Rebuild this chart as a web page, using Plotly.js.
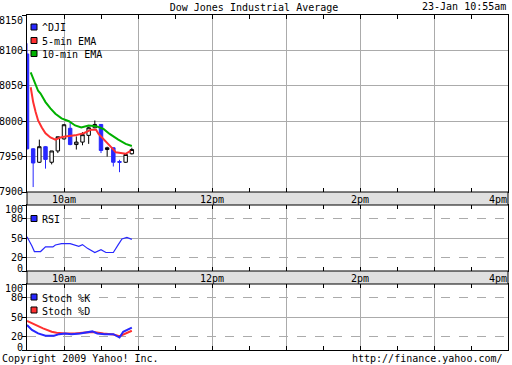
<!DOCTYPE html>
<html><head><meta charset="utf-8">
<script src="https://cdn.plot.ly/plotly-3.0.1.min.js"></script>
<style>html,body{margin:0;padding:0;background:#fff;}#chart{width:512px;height:365px;}</style>
</head><body><div id="chart"></div>
<script>
const DAY = '2009-01-23 ';
// ^DJI 5-minute candles
const candleTimes = ['09:30','09:35','09:40','09:45','09:50','09:55','10:00','10:05','10:10','10:15','10:20','10:25','10:30','10:35','10:40','10:45','10:50','10:55'];
const opens  = [8095,7961,7942,7964,7942,7958,7975,7990,7967,7970.5,7980,7990.7,7995.4,7960,7962.5,7943,7942,7954];
const highs  = [8110,7962,7974,7965,7958,7978,7996,7998,7978.5,7984.5,7992,8001,7996,7964,7963,7945.5,7953,7962.5];
const lows   = [7960,7907,7941,7933,7939,7955,7974,7966,7960,7966,7968,7990,7955,7950,7936,7928,7941,7953];
const closes = [7961,7941,7964,7946,7958,7978,7995,7967,7970.5,7981,7990.7,7995.4,7958.7,7962.5,7942,7942,7953,7960];

// 5-min EMA
const ema5Times = ['09:33','09:35','09:37','09:39','09:42','09:45','09:49','09:53','09:57','10:01','10:09','10:16','10:22','10:26','10:28','10:32','10:36','10:39','10:42','10:46','10:50','10:54'];
const ema5Vals  = [8048,8027,8013,8001,7991,7983,7977,7974,7977,7978.5,7980,7983,7988,7988,7982,7975,7968,7962,7956,7955,7954,7958];
// 10-min EMA
const ema10Times = ['09:33','09:37','09:39','09:41','09:45','09:49','09:53','09:58','10:04','10:09','10:14','10:20','10:26','10:32','10:37','10:44','10:50','10:55'];
const ema10Vals  = [8069,8053,8043,8039,8027,8018,8010.5,8004,8000,7994,7991,7994,7993,7989,7982,7974,7968,7965];

// RSI
const rsiTimes = ['09:30','09:32','09:34','09:36','09:41','09:45','09:51','09:53','09:58','10:05','10:09','10:12','10:15','10:19','10:25','10:30','10:34','10:40','10:44','10:47','10:51','10:55'];
const rsiVals  = [52,45.5,38,29.5,29.5,36.5,36.5,39.4,41.5,41.5,38.5,37.4,40,34.3,28,32.3,28,28,40,48.5,50.8,48];

// Stochastics
const stochKTimes = ['09:30','09:34','09:39','09:45','09:52','09:56','10:01','10:06','10:13','10:20','10:23','10:27','10:33','10:40','10:45','10:48','10:52','10:55'];
const stochKVals  = [37.8,30.5,25.1,21.5,21.5,24,25.1,24,25.1,27.1,28.2,25.1,24,24,18.9,27.7,31.7,33.8];
const stochDTimes = ['09:30','09:37','09:43','09:50','09:54','10:01','10:09','10:17','10:24','10:32','10:40','10:45','10:50','10:55'];
const stochDVals  = [44,37.8,32.8,27.7,26.2,25.1,25.1,26.6,27.1,25.1,23.5,20.9,25.1,29.2];

const mainTicks = [7900,7950,8000,8050,8100,8150];
const oscTicks = [0,20,50,80,100];
const bandLabels = [['10:00','10am'],['12:00','12pm'],['14:00','2pm'],['16:00','4pm']];

const BLUE='#2828ff', RED='#ff3030', GREEN='#00b000', GRID='#ababab';
const FONT = {family:'DejaVu Sans Mono, monospace', size:10, color:'#000'};
const t = a => a.map(s => DAY + s);

// pixel -> paper helpers (plot area 27..508 x, 15..350 y)
const PL=27, PR=508, PT=15, PB=350;
const px = v => (v-PL)/(PR-PL);
const py = v => (PB-v)/(PB-PT);

const traces = [
  {type:'candlestick', x:t(candleTimes), open:opens, high:highs, low:lows, close:closes,
   xaxis:'x', yaxis:'y', whiskerwidth:0, hoverinfo:'none', showlegend:false,
   increasing:{line:{color:'#000',width:1}, fillcolor:'#fff'},
   decreasing:{line:{color:BLUE,width:1}, fillcolor:BLUE}},
  {type:'scatter', mode:'lines', x:t(ema5Times), y:ema5Vals, xaxis:'x', yaxis:'y', line:{color:RED,width:2}, hoverinfo:'none'},
  {type:'scatter', mode:'lines', x:t(ema10Times), y:ema10Vals, xaxis:'x', yaxis:'y', line:{color:GREEN,width:2}, hoverinfo:'none'},
  {type:'scatter', mode:'lines', x:t(rsiTimes), y:rsiVals, xaxis:'x2', yaxis:'y2', line:{color:BLUE,width:1.2}, hoverinfo:'none'},
  {type:'scatter', mode:'lines', x:t(stochDTimes), y:stochDVals, xaxis:'x3', yaxis:'y3', line:{color:RED,width:2}, hoverinfo:'none'},
  {type:'scatter', mode:'lines', x:t(stochKTimes), y:stochKVals, xaxis:'x3', yaxis:'y3', line:{color:BLUE,width:2}, hoverinfo:'none'}
];

function xax(anchor, extra){
  return Object.assign({
    type:'date', range:[DAY+'09:30', DAY+'16:00'], anchor:anchor,
    showline:true, linecolor:'#000', linewidth:1, mirror:'ticks',
    showgrid:true, gridcolor:GRID, gridwidth:1,
    tick0:DAY+'10:00', dtick:3600000, ticks:'inside', ticklen:4, tickcolor:'#000',
    minor:{dtick:1800000, ticks:'inside', ticklen:4, tickcolor:'#000', showgrid:false},
    showticklabels:false, fixedrange:true, zeroline:false
  }, extra||{});
}
function oscY(dom){
  return {domain:dom, range:[0,100], tickmode:'array', tickvals:oscTicks, showticklabels:false,
    ticks:'outside', ticklen:4, tickcolor:'#000',
    showline:true, linecolor:'#000', mirror:true,
    showgrid:true, gridcolor:GRID, griddash:'dash', zeroline:false, fixedrange:true,
    minor:{tickmode:'array', tickvals:[50], showgrid:true, gridcolor:GRID, griddash:'solid', ticks:''}};
}

const shapes = [];
const annotations = [];
// bands
[[192,205],[271,284]].forEach(b => {
  shapes.push({type:'rect', xref:'paper', yref:'paper', x0:0, x1:1, y0:py(b[1]), y1:py(b[0]),
    fillcolor:'#e0e0e0', line:{color:'#000', width:1}, layer:'above'});
  bandLabels.forEach(l => {
    annotations.push({xref:'x', yref:'paper', x:DAY+l[0], y:py((b[0]+b[1])/2+0.5),
      text:l[1], showarrow:false, font:FONT, xanchor: l[1]==='4pm' ? 'right':'center', yanchor:'middle', xshift: l[1]==='4pm' ? 1 : 0});
  });
});
// legends
function legend(cy, color, label){
  shapes.push({type:'rect', xref:'paper', yref:'paper', x0:px(31), x1:px(37), y0:py(cy+3), y1:py(cy-3),
    fillcolor:color, line:{color:'#000', width:1}, layer:'above'});
  annotations.push({xref:'paper', yref:'paper', x:px(39.5), y:py(cy+1), text:label, showarrow:false,
    font:FONT, xanchor:'left', yanchor:'middle'});
}
legend(27, BLUE, '^DJI');
legend(40.5, RED, '5-min EMA');
legend(53.5, GREEN, '10-min EMA');
legend(218.5, BLUE, 'RSI');
legend(297, BLUE, 'Stoch %K');
legend(310, RED, 'Stoch %D');
// y tick labels (edge labels nudged inside, as in the original)
const LX = px(24.5);
mainTicks.forEach(v => {
  annotations.push({xref:'paper', yref:'y', x:LX, y:v, yshift: v===8150 ? -5 : (v===7900 ? 1 : 0),
    text:String(v), showarrow:false, font:FONT, xanchor:'right', yanchor:'middle'});
});
['y2','y3'].forEach(ya => {
  oscTicks.forEach(v => {
    annotations.push({xref:'paper', yref:ya, x:LX, y:v, yshift: v===100 ? -4 : (v===0 ? 3 : 0),
      text:String(v), showarrow:false, font:FONT, xanchor:'right', yanchor:'middle'});
  });
});
// header / footer texts
annotations.push({xref:'paper', yref:'paper', x:1, y:py(7), text:'23-Jan 10:55am', showarrow:false, font:FONT, xanchor:'right', yanchor:'middle'});
annotations.push({xref:'paper', yref:'paper', x:px(0), y:py(358.5), text:'Copyright 2009 Yahoo! Inc.', showarrow:false, font:FONT, xanchor:'left', yanchor:'middle'});
annotations.push({xref:'paper', yref:'paper', x:px(505), y:py(358.5), text:'http://finance.yahoo.com/', showarrow:false, font:FONT, xanchor:'right', yanchor:'middle'});

const layout = {
  width:512, height:365, margin:{l:27, r:4, t:15, b:15, pad:0},
  paper_bgcolor:'#fff', plot_bgcolor:'#fff', showlegend:false, font:FONT,
  title:{text:'Dow Jones Industrial Average', font:FONT, x:254/512, xanchor:'center', y:1-7/365, yanchor:'middle', xref:'container', yref:'container'},
  boxgap:0.2,
  xaxis: xax('y', {rangeslider:{visible:false}}),
  xaxis2: xax('y2', {matches:'x'}),
  xaxis3: xax('y3', {matches:'x'}),
  yaxis: {domain:[py(192),1], range:[7900,8150], tickmode:'array', tickvals:mainTicks, showticklabels:false,
    ticks:'outside', ticklen:4, tickcolor:'#000',
    showline:true, linecolor:'#000', mirror:true, showgrid:true, gridcolor:GRID, zeroline:false, fixedrange:true},
  yaxis2: oscY([py(271), py(205)]),
  yaxis3: oscY([0, py(284)]),
  shapes:shapes, annotations:annotations
};
Plotly.newPlot('chart', traces, layout, {staticPlot:true, displayModeBar:false});
</script></body></html>
